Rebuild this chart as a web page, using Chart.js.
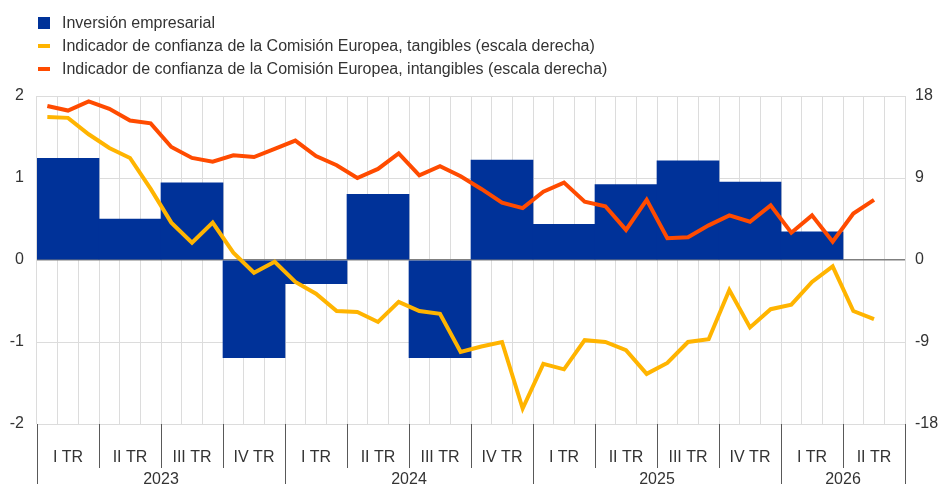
<!DOCTYPE html>
<html>
<head>
<meta charset="utf-8">
<script src="https://cdn.jsdelivr.net/npm/chart.js@4/dist/chart.umd.min.js"></script>
<style>
  html,body{margin:0;padding:0;background:#fff;}
  #wrap{position:relative;width:942px;height:484px;font-family:'Liberation Sans',Arial,sans-serif;color:#333;}
  #chart{position:absolute;left:0;top:0;}
  .lg{position:absolute;left:38px;font-size:16px;line-height:18px;white-space:nowrap;}
  .lg i{position:absolute;left:0;display:block;}
  .lg span{position:absolute;left:24px;top:0;}
</style>
</head>
<body>
<div id="wrap">
  <canvas id="chart" width="942" height="484"></canvas>
  <div class="lg" style="top:14px"><i style="top:3px;width:12px;height:12px;background:#003299"></i><span>Inversión empresarial</span></div>
  <div class="lg" style="top:37px"><i style="top:7px;width:12px;height:4px;background:#ffb400"></i><span>Indicador de confianza de la Comisión Europea, tangibles (escala derecha)</span></div>
  <div class="lg" style="top:60px"><i style="top:7px;width:12px;height:4px;background:#ff4b00"></i><span>Indicador de confianza de la Comisión Europea, intangibles (escala derecha)</span></div>
</div>
<script>
// datos
const quarters=['I TR','II TR','III TR','IV TR','I TR','II TR','III TR','IV TR','I TR','II TR','III TR','IV TR','I TR','II TR'];
const years=['2023','2024','2025','2026'];
const yearQuarters=[4,4,4,2];
const months=['e23','f23','m23','a23','my23','j23','jl23','ag23','s23','o23','n23','d23',
  'e24','f24','m24','a24','my24','j24','jl24','ag24','s24','o24','n24','d24',
  'e25','f25','m25','a25','my25','j25','jl25','ag25','s25','o25','n25','d25',
  'e26','f26','m26','a26','my26','j26'];
const inversion=[1.24,0.50,0.94,-1.19,-0.29,0.80,-1.19,1.22,0.435,0.92,1.21,0.95,0.345,null];
const tangibles=[15.7,15.6,13.8,12.3,11.2,7.8,4.1,1.9,4.1,0.8,-1.4,-0.2,
  -2.4,-3.7,-5.6,-5.7,-6.8,-4.6,-5.6,-5.9,-10.1,-9.5,-9.0,-16.3,
  -11.4,-12.0,-8.8,-9.0,-9.9,-12.5,-11.3,-9.0,-8.7,-3.3,-7.4,-5.4,
  -4.9,-2.4,-0.7,-5.6,-6.5];
const intangibles=[16.9,16.4,17.4,16.6,15.3,15.0,12.4,11.2,10.8,11.5,11.3,12.2,
  13.1,11.4,10.4,9.0,10.0,11.7,9.3,10.3,9.2,7.8,6.3,5.7,
  7.5,8.5,6.4,5.9,3.3,6.6,2.4,2.5,3.8,4.9,4.2,6.0,
  3.0,4.9,2.0,5.1,6.6];

const FONT="'Liberation Sans', Arial, sans-serif";
const INK='#333333';

// eje de trimestres y años dibujado a mano
const quarterAxis={
  id:'quarterAxis',
  afterDraw(chart){
    const sc=chart.scales.x, ctx=chart.ctx, top=chart.chartArea.bottom;
    const half=(sc.getPixelForValue(1)-sc.getPixelForValue(0))/2;
    ctx.save();
    ctx.font='16px '+FONT;ctx.fillStyle=INK;ctx.textAlign='center';ctx.textBaseline='middle';
    quarters.forEach((q,i)=>ctx.fillText(q,sc.getPixelForValue(i),top+34));
    ctx.strokeStyle='#595959';ctx.lineWidth=1;
    const yearStarts=[0];yearQuarters.forEach((n,k)=>yearStarts.push(yearStarts[k]+n));
    for(let k=0;k<=quarters.length;k++){
      const x=Math.round(sc.getPixelForValue(k)-half)+0.5;
      const full=yearStarts.includes(k);
      ctx.beginPath();ctx.moveTo(x,top);ctx.lineTo(x,full?484:top+44);ctx.stroke();
    }
    years.forEach((y,k)=>{
      const a=sc.getPixelForValue(yearStarts[k])-half, b=sc.getPixelForValue(yearStarts[k+1]-1)+half;
      ctx.fillText(y,(a+b)/2,top+56);
    });
    ctx.restore();
  }
};

new Chart(document.getElementById('chart').getContext('2d'),{
  data:{
    labels:quarters,
    datasets:[
      {type:'bar',label:'Inversión empresarial',data:inversion,backgroundColor:'#003299',xAxisID:'x',yAxisID:'y',barPercentage:1,categoryPercentage:1,grouped:false,order:3},
      {type:'line',label:'tangibles',data:tangibles,borderColor:'#ffb400',borderWidth:4,pointRadius:0,tension:0,xAxisID:'xm',yAxisID:'y2',order:2},
      {type:'line',label:'intangibles',data:intangibles,borderColor:'#ff4b00',borderWidth:4,pointRadius:0,tension:0,xAxisID:'xm',yAxisID:'y2',order:1},
    ]
  },
  options:{
    responsive:false,animation:false,devicePixelRatio:1,
    layout:{padding:{top:96,left:0,right:0,bottom:0}},
    plugins:{legend:{display:false},tooltip:{enabled:false}},
    scales:{
      x:{type:'category',labels:quarters,offset:true,grid:{display:false},ticks:{display:false},border:{display:false},afterFit:s=>{s.height=60;}},
      xm:{type:'category',labels:months,offset:true,position:'bottom',
        grid:{offset:true,drawTicks:false,color:'#dcdcdc',lineWidth:1},ticks:{display:false},border:{display:false},afterFit:s=>{s.height=0;}},
      y:{position:'left',min:-2,max:2,ticks:{stepSize:1,padding:13,color:INK,font:{family:FONT,size:16}},
        grid:{drawTicks:false,color:c=>c.tick&&c.tick.value===0?'#7f7f7f':'#dcdcdc',lineWidth:c=>c.tick&&c.tick.value===0?1.5:1},
        border:{display:false},afterFit:s=>{s.width=37;}},
      y2:{position:'right',min:-18,max:18,ticks:{stepSize:9,padding:10,color:INK,font:{family:FONT,size:16}},
        grid:{drawOnChartArea:false,drawTicks:false},border:{display:false},afterFit:s=>{s.width=37;}}
    }
  },
  plugins:[quarterAxis]
});
</script>
</body>
</html>
